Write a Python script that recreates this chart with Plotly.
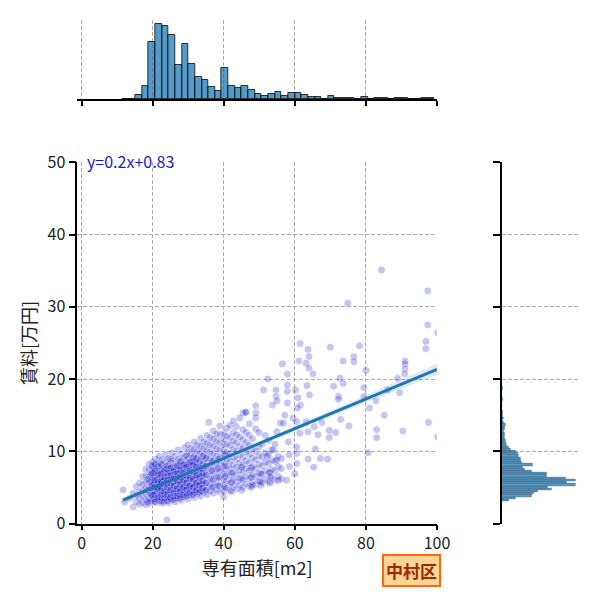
import plotly.graph_objects as go

# --- scatter: 専有面積 (m2) vs 賃料 (万円), dense cluster read column by column ---
cluster_x = [11.7, 12.1, 13.6, 14.5, 15.4, 16.3, 17.2, 18.1, 19.0, 20.0, 20.9, 21.8,
             22.7, 23.6, 24.5, 25.4, 26.3, 27.2, 28.1, 29.0, 29.9, 30.8, 31.7, 32.6,
             33.5, 34.4, 35.3, 36.2, 37.1, 38.0, 38.9, 40.0, 40.9, 41.8, 42.7, 43.6,
             44.5, 45.4, 46.3, 47.2, 48.1, 49.0, 49.9, 50.8, 51.7, 52.6, 53.5, 54.4,
             55.3, 56.2,
             19.5, 20.4, 21.3, 22.2, 23.1, 24.0, 24.9, 25.8, 26.7, 27.6, 28.5, 29.4,
             30.3, 31.2, 32.1, 33.0, 33.9, 42.2, 45.0, 47.8, 50.4, 53.0,
             18.6, 19.8, 20.6, 21.5, 22.4, 23.3, 24.2, 25.1, 26.0, 26.9, 27.8, 28.7,
             29.6, 30.5, 31.4, 32.3, 33.2, 34.1, 35.0, 36.7, 38.5, 40.3]
cluster_y = [
    [4.65], [3.0], [3.5], [2.3, 4.2], [3.0, 3.9, 5.1], [2.7, 3.5, 4.4, 5.6],
    [2.9, 3.8, 4.6, 5.4, 6.5],
    [2.6, 3.3, 4.1, 4.9, 5.7, 6.6, 7.5],
    [2.8, 3.5, 4.3, 5.0, 5.8, 6.6, 7.4, 8.2],
    [3.2, 3.7, 4.2, 4.7, 5.2, 5.7, 6.2, 6.7, 7.2, 7.8, 8.5],
    [2.9, 3.6, 4.4, 5.1, 5.9, 6.6, 7.4, 8.1, 8.9],
    [3.1, 3.8, 4.6, 5.3, 6.1, 6.8, 7.6, 8.4, 9.3],
    [2.8, 3.5, 4.3, 5.0, 5.8, 6.5, 7.3, 8.0, 8.8],
    [3.2, 3.9, 4.7, 5.4, 6.2, 6.9, 7.7, 8.5, 9.5],
    [2.9, 3.6, 4.4, 5.2, 5.9, 6.7, 7.4, 8.2, 9.0],
    [3.3, 4.0, 4.8, 5.5, 6.3, 7.1, 7.8, 8.6, 9.8],
    [3.0, 3.8, 4.5, 5.3, 6.0, 6.8, 7.6, 8.4, 9.3],
    [3.5, 4.2, 5.0, 5.8, 6.5, 7.3, 8.1, 8.9, 10.2],
    [3.2, 4.0, 4.7, 5.5, 6.3, 7.1, 7.9, 8.7, 9.6],
    [3.7, 4.5, 5.2, 6.0, 6.8, 7.6, 8.4, 9.2, 10.5],
    [3.4, 4.2, 5.0, 5.8, 6.6, 7.4, 8.2, 9.0, 9.9, 10.9],
    [3.9, 4.7, 5.5, 6.3, 7.1, 7.9, 8.7, 9.6, 10.4],
    [3.6, 4.4, 5.2, 6.0, 6.9, 7.7, 8.5, 9.4, 10.3, 11.3],
    [4.1, 4.9, 5.7, 6.6, 7.4, 8.3, 9.1, 10.0, 10.9],
    [3.8, 4.6, 5.5, 6.3, 7.2, 8.0, 8.9, 9.8, 10.7, 11.8],
    [4.3, 5.1, 6.0, 6.8, 7.7, 8.6, 9.5, 10.4, 11.3],
    [4.0, 4.9, 5.7, 6.6, 7.5, 8.4, 9.3, 10.2, 11.1, 12.2],
    [4.5, 5.4, 6.3, 7.2, 8.1, 9.0, 9.9, 10.9, 11.9],
    [4.2, 5.1, 6.0, 6.9, 7.8, 8.8, 9.7, 10.7, 11.7, 12.8],
    [4.7, 5.6, 6.5, 7.5, 8.4, 9.4, 10.4, 11.4, 12.4],
    [4.4, 5.3, 6.3, 7.2, 8.2, 9.2, 10.2, 11.2, 12.3, 13.5],
    [3.7, 4.5, 5.3, 6.1, 6.9, 7.7, 8.5, 9.3, 10.1, 10.9, 11.7, 12.5],
    [4.9, 5.9, 6.9, 7.9, 8.9, 9.9, 11.0, 12.1, 13.2],
    [4.6, 5.6, 6.6, 7.6, 8.6, 9.7, 10.8, 11.9, 13.6],
    [5.1, 6.1, 7.1, 8.1, 9.2, 10.3, 11.4, 12.6, 14.2],
    [4.8, 5.8, 6.8, 7.8, 8.9, 10.0, 11.2, 12.3, 13.4],
    [5.3, 6.3, 7.4, 8.4, 9.5, 10.7, 12.0, 14.6],
    [5.0, 6.0, 7.1, 8.1, 9.2, 10.4, 11.6, 13.0, 15.3],
    [5.5, 6.5, 7.6, 8.7, 9.9, 11.2, 12.6, 15.4],
    [5.2, 6.3, 7.3, 8.4, 9.6, 10.8, 12.2, 13.8],
    [5.7, 6.8, 7.9, 9.1, 10.3, 11.7],
    [5.4, 6.5, 7.6, 8.8, 10.0, 13.1, 14.6, 15.3, 16.3],
    [5.9, 7.0, 8.2, 9.4, 10.6, 12.6],
    [5.6, 6.8, 8.0, 9.2, 11.0],
    [6.1, 7.3, 8.5, 9.8, 12.2],
    [5.8, 7.0, 8.3, 9.6, 11.5],
    [6.3, 7.5, 8.8, 10.2],
    [6.0, 7.3, 8.6, 11.0],
    [6.5, 7.9, 9.3],
    [6.2, 7.6, 9.0],
    [3.1, 4.0, 4.9, 5.8, 6.8], [3.4, 4.5, 5.5, 6.4, 7.6], [3.3, 4.2, 5.0, 6.0, 7.0],
    [3.6, 4.5, 5.5, 6.4, 7.3], [3.0, 4.1, 5.1, 6.0, 7.1], [3.7, 4.6, 5.6, 6.6, 7.6],
    [3.4, 4.3, 5.3, 6.3, 7.2], [3.8, 4.8, 5.8, 6.7, 7.8], [3.5, 4.5, 5.5, 6.5, 7.4],
    [4.0, 5.0, 6.0, 6.9, 8.0], [3.7, 4.7, 5.7, 6.7, 7.6], [4.2, 5.2, 6.2, 7.2, 8.2],
    [4.0, 5.0, 6.0, 7.0, 8.0], [4.5, 5.5, 6.5, 7.5, 8.5], [4.3, 5.3, 6.3, 7.3, 8.3],
    [4.8, 5.8, 6.8, 7.8], [4.5, 5.5, 6.6, 7.6],
    [4.4, 5.7, 7.0], [4.6, 6.2, 7.8], [5.0, 6.4, 7.7], [5.3, 6.9], [5.6, 7.1],
    [3.0, 4.6, 6.1], [3.9, 5.3, 7.0, 8.0], [3.0, 4.0, 5.0, 6.0, 7.2, 8.3],
    [3.6, 4.8, 5.7, 6.7, 7.9], [3.1, 4.0, 4.9, 5.9, 6.9, 8.2], [3.5, 4.4, 5.5, 6.4, 7.5],
    [3.1, 4.0, 5.0, 6.0, 7.0, 8.0], [3.6, 4.6, 5.6, 6.6, 7.7, 8.9], [3.3, 4.2, 5.2, 6.2, 7.2],
    [3.8, 4.8, 5.9, 6.9, 8.0], [3.5, 4.4, 5.4, 6.4, 7.4, 8.6], [4.0, 5.0, 6.0, 7.0, 8.1],
    [3.8, 4.7, 5.6, 6.6, 7.8, 9.4], [4.3, 5.2, 6.3, 7.3, 8.5], [4.0, 5.0, 6.1, 7.1, 8.1, 9.1],
    [4.6, 5.6, 6.7, 7.8, 9.0], [4.3, 5.3, 6.4, 7.5, 8.6], [4.9, 5.9, 7.0, 8.1, 9.3],
    [4.6, 5.6, 6.7, 7.9, 9.0], [5.0, 6.1, 7.3, 8.6], [5.2, 6.4, 7.6, 8.9],
    [5.0, 6.5, 8.0, 9.6],
]

# scattered listings outside the main cluster
outlier_x = [84.4, 97.4, 74.9, 97.4, 100.2, 96.9, 96.9, 61.5, 63.7, 70.0, 78.2, 64.0,
             61.2, 73.6, 76.6, 76.6, 63.2, 64.0, 65.1, 56.5, 57.9, 52.4, 80.0, 91.0,
             91.0, 91.0, 90.9, 88.9, 86.1, 89.5, 82.8, 85.2, 79.4, 79.4, 81.0, 72.7,
             70.9, 73.6, 72.3, 72.3, 63.4, 51.2, 54.7, 54.7, 55.0, 57.9, 57.9, 57.9,
             60.2, 60.9, 61.6, 60.7, 64.1, 53.7, 46.1, 72.9, 75.2, 83.0, 83.0, 90.4,
             97.6, 80.6, 69.7, 69.7, 71.5, 67.6, 65.5, 66.5, 63.2, 63.7, 61.4, 65.8,
             67.2, 69.2, 63.7, 65.3, 60.5, 60.5, 60.6, 60.0, 58.4, 58.5, 55.9, 54.9,
             56.8, 58.2, 54.0, 54.9, 52.2, 57.2, 59.5, 60.5, 55.4, 57.7, 53.1, 50.3,
             48.0, 100.2, 35.8, 24.0]
outlier_y = [35.1, 32.2, 30.5, 27.5, 26.4, 25.2, 24.2, 24.9, 24.1, 24.4, 24.6, 23.1,
             22.5, 22.5, 23.1, 22.4, 22.2, 21.5, 20.7, 22.1, 20.7, 20.0, 21.2, 22.5,
             22.1, 21.4, 20.7, 20.1, 18.5, 18.1, 17.0, 15.0, 18.8, 17.6, 16.0, 20.1,
             19.0, 19.4, 17.6, 17.2, 19.1, 18.5, 18.5, 17.6, 17.0, 18.3, 19.2, 16.7,
             18.5, 17.4, 16.4, 16.0, 17.8, 16.4, 15.4, 14.4, 13.5, 13.0, 11.9, 12.8,
             14.0, 9.8, 12.9, 11.9, 12.6, 14.0, 13.4, 12.3, 14.1, 12.7, 12.5, 10.3,
             9.0, 8.9, 8.9, 7.8, 10.6, 9.7, 8.3, 6.9, 9.5, 7.9, 13.9, 12.7,
             13.9, 11.3, 10.2, 8.8, 9.3, 15.0, 14.6, 14.1, 6.0, 6.0, 6.5, 5.8,
             5.3, 12.0, 14.0, 0.5]

# regression (as printed on the chart) and its confidence band half-width
fit_slope = 0.205
fit_intercept = 0.83
band_x = [11.4, 20, 30, 40, 60, 80, 100]
band_half = [0.35, 0.22, 0.15, 0.18, 0.32, 0.52, 0.78]

# top marginal histogram (area)
area_bin_start = 11.4
area_bin_width = 1.87
area_counts = [1, 1, 11, 38, 170, 224, 218, 192, 101, 164, 104, 65, 56, 35, 23, 92,
               40, 32, 38, 26, 14, 8, 14, 20, 8, 17, 17, 11, 5, 5, 0, 8, 2, 2, 2, 0,
               5, 0, 2, 2, 0, 2, 2, 0, 0, 2, 2]

# right marginal histogram (rent)
rent_bin_start = 3.07
rent_bin_width = 0.307
rent_counts = [20, 43, 88, 96, 108, 150, 138, 221, 193, 220, 190, 133, 133, 88, 68,
               63, 91, 60, 58, 56, 50, 48, 43, 28, 20, 16, 13, 13, 10, 8, 8, 6, 10,
               8, 12, 6, 4, 6, 3, 4, 3, 0, 0, 0, 0, 3, 2, 0, 0, 0, 3, 2, 0, 0, 0, 0,
               0, 0, 0, 0, 0, 0, 1, 0, 0, 0, 0, 0, 1]

ward = "中村区"
x_title = "専有面積[m2]"
y_title = "賃料[万円]"

area = [x for x, ys in zip(cluster_x, cluster_y) for _ in ys] + outlier_x
rent = [y for ys in cluster_y for y in ys] + outlier_y

FONT = "Noto Sans CJK JP"
GRID = "#ababab"
DASH = "4px,2px"

fig = go.Figure()

# confidence band + regression line
lo = [fit_slope * x + fit_intercept - h for x, h in zip(band_x, band_half)]
hi = [fit_slope * x + fit_intercept + h for x, h in zip(band_x, band_half)]
fig.add_trace(go.Scatter(x=band_x, y=lo, mode="lines", line=dict(width=0),
                         showlegend=False, hoverinfo="skip"))
fig.add_trace(go.Scatter(x=band_x, y=hi, mode="lines", line=dict(width=0),
                         fill="tonexty", fillcolor="rgba(31,119,180,0.15)",
                         showlegend=False, hoverinfo="skip"))

fig.add_trace(go.Scatter(
    x=area, y=rent, mode="markers",
    marker=dict(color="#0000cd", size=8, opacity=0.22,
                line=dict(color="white", width=1)),
    showlegend=False,
))

line_x = [min(area), 100]
fig.add_trace(go.Scatter(x=line_x, y=[fit_slope * x + fit_intercept for x in line_x],
                         mode="lines", line=dict(color="#1f77b4", width=3),
                         showlegend=False))

# top histogram
fig.add_trace(go.Bar(
    x=[area_bin_start + (i + 0.5) * area_bin_width for i in range(len(area_counts))],
    y=area_counts, width=area_bin_width,
    marker=dict(color="rgba(31,119,180,0.75)", line=dict(color="rgba(0,0,0,0.75)", width=1)),
    xaxis="x2", yaxis="y2", showlegend=False,
))

# right histogram
fig.add_trace(go.Bar(
    y=[rent_bin_start + (i + 0.5) * rent_bin_width for i in range(len(rent_counts))],
    x=rent_counts, width=rent_bin_width, orientation="h",
    marker=dict(color="rgba(31,119,180,0.75)", line=dict(color="rgba(60,60,60,0.5)", width=0.5)),
    xaxis="x3", yaxis="y3", showlegend=False,
))

tick_font = dict(family=FONT, size=16, color="#222")
title_font = dict(family=FONT, size=18, color="#222")
xr = [-1.2, 100]
ticks_x = [0, 20, 40, 60, 80, 100]
ticks_y = [0, 10, 20, 30, 40, 50]

# the page body adds an 8px offset, so the domains are shifted by that amount
main_x = [0.1155, 0.715]
main_y = [0.1408, 0.7428]
fig.update_layout(
    width=600, height=600,
    margin=dict(l=0, r=0, t=0, b=0),
    paper_bgcolor="white", plot_bgcolor="white",
    font=dict(family=FONT),
    bargap=0,
    xaxis=dict(domain=main_x, range=xr, tickvals=ticks_x, automargin=False,
               showgrid=True, gridcolor=GRID, griddash=DASH, gridwidth=1,
               showline=True, linecolor="black", linewidth=1.5,
               ticks="outside", ticklen=5, tickwidth=1.5, tickcolor="black",
               tickfont=tick_font, zeroline=False,
               title=dict(text=x_title, font=title_font, standoff=4)),
    yaxis=dict(domain=main_y, range=[0, 50], tickvals=ticks_y, automargin=False,
               showgrid=True, gridcolor=GRID, griddash=DASH, gridwidth=1,
               showline=True, linecolor="black", linewidth=1.5,
               ticks="outside", ticklen=7, tickwidth=1.5, tickcolor="black",
               tickfont=tick_font, zeroline=False,
               title=dict(text=y_title, font=title_font, standoff=6)),
    xaxis2=dict(domain=main_x, range=xr, anchor="y2", automargin=False,
                tickvals=ticks_x, showticklabels=False,
                showgrid=True, gridcolor=GRID, griddash=DASH, gridwidth=1,
                showline=True, linecolor="black", linewidth=1.5,
                ticks="outside", ticklen=5, tickwidth=1.5, tickcolor="black",
                zeroline=False),
    yaxis2=dict(domain=[0.8483, 0.98], range=[0, 237], anchor="x2", automargin=False,
                showgrid=False, showticklabels=False, showline=False, zeroline=False),
    xaxis3=dict(domain=[0.8228, 0.9533], range=[0, 233], anchor="y3", automargin=False,
                showgrid=False, showticklabels=False, showline=False, zeroline=False),
    yaxis3=dict(domain=main_y, range=[0, 50], anchor="x3", automargin=False,
                tickvals=ticks_y, showticklabels=False,
                showgrid=True, gridcolor=GRID, griddash=DASH, gridwidth=1,
                showline=True, linecolor="black", linewidth=1.5,
                ticks="outside", ticklen=7, tickwidth=1.5, tickcolor="black",
                zeroline=False),
)

fig.add_annotation(
    x=1.0, y=50, xref="x", yref="y", xanchor="left", yanchor="middle", yshift=1,
    text=f"y={round(fit_slope, 1)}x+{fit_intercept}", showarrow=False,
    font=dict(family=FONT, size=16, color="#1a1acd"),
)

fig.add_annotation(
    x=0.6717, y=0.062, xref="paper", yref="paper", xanchor="center", yanchor="middle",
    text=f"<b>{ward}</b>", showarrow=False,
    font=dict(family=FONT, size=17, color="#a02a00"),
    bgcolor="#ffd596", bordercolor="#ff6a10", borderwidth=2, borderpad=2,
)

fig.write_html("out.html")
